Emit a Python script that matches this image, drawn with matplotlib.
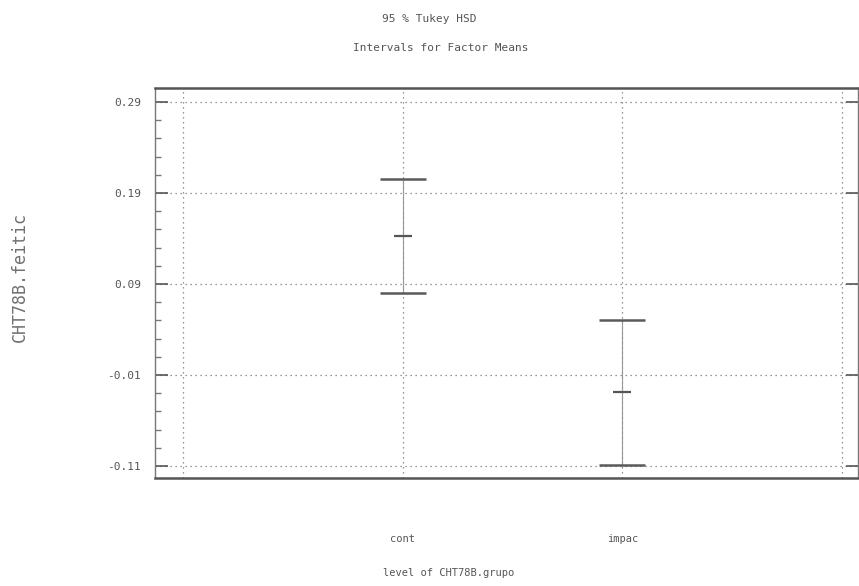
import matplotlib
matplotlib.use("Agg")
import matplotlib.pyplot as plt
import numpy as np
from matplotlib.ticker import FixedLocator

categories = ["cont", "impac"]
cat_pos = [1, 2]
means = [0.143, -0.029]
lower = [0.080, -0.109]
upper = [0.205, 0.050]
yticks = [-0.11, -0.01, 0.09, 0.19, 0.29]
ytick_labels = ["-0.11", "-0.01", "0.09", "0.19", "0.29"]

mono = "DejaVu Sans Mono"
txt = "#555555"
fig = plt.figure(figsize=(8.59, 5.86), dpi=100)
ax = fig.add_axes([0.1804, 0.1843, 0.8184, 0.6655])

ax.set_xlim(-0.127, 3.072)
ax.set_ylim(-0.1232, 0.3053)

means_a = np.array(means)
yerr = [means_a - np.array(lower), np.array(upper) - means_a]
cont = ax.errorbar(cat_pos, means, yerr=yerr, fmt="none", ecolor="#5a5a5a",
                   elinewidth=0.8, capsize=16.5, capthick=1.8, zorder=3)
for lc in cont[2]:
    lc.set_color("#999999")
ax.plot(cat_pos, means, linestyle="none", marker="_", markersize=13,
        markeredgewidth=1.6, color="#555555", zorder=4)

ax.set_yticks(yticks)
ax.set_yticklabels(ytick_labels, family=mono, fontsize=8, color=txt)
ax.yaxis.set_minor_locator(FixedLocator(np.arange(-0.11, 0.2901, 0.02)))
ax.tick_params(axis="y", which="major", direction="in", length=9, width=1.2,
               color="#555555", right=True, pad=10)
ax.tick_params(axis="y", which="minor", direction="in", length=4.5, width=1.0,
               color="#777777", right=False)

ax.set_xticks([0, 1, 2, 3])
ax.set_xticklabels(["", categories[0], categories[1], ""], family=mono,
                   fontsize=7.5, color=txt)
ax.tick_params(axis="x", length=0, pad=40)

ax.grid(True, which="major", linestyle=(0, (1, 3)), color="#777777", linewidth=0.9)

for s in ["top", "bottom"]:
    ax.spines[s].set_linewidth(1.8)
    ax.spines[s].set_color("#555555")
for s in ["left", "right"]:
    ax.spines[s].set_linewidth(1.0)
    ax.spines[s].set_color("#777777")

fig.text(0.522, 1 - 573 / 586, "level of CHT78B.grupo", family=mono,
         fontsize=7.5, color=txt, ha="center", va="center")
fig.text(20 / 859, 1 - 277 / 586, "CHT78B.feitic", family=mono, fontsize=12,
         color="#707070", ha="center", va="center", rotation=90)

fig.text(0.5, 0.967, "95 % Tukey HSD", family=mono, fontsize=8, color=txt,
         ha="center", va="center")
fig.text(0.513, 0.918, "Intervals for Factor Means", family=mono, fontsize=8,
         color=txt, ha="center", va="center")

fig.savefig("out.png", dpi=100)
